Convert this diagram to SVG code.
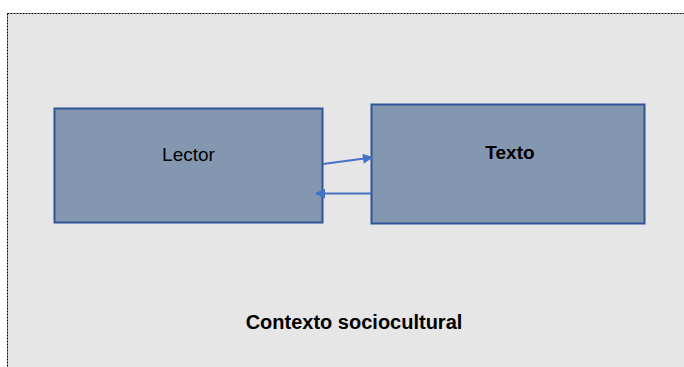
<svg xmlns="http://www.w3.org/2000/svg" width="684" height="367" viewBox="0 0 684 367">
<style>
.node{fill:#8497B0;stroke:#2F5597;stroke-width:2}
.lbl{font-family:"Liberation Sans",Arial,sans-serif;fill:#000;text-anchor:middle}
.conn{stroke:#4472C4;stroke-width:2;fill:none;marker-end:url(#ah)}
</style>
<defs>
<marker id="ah" viewBox="0 0 10 10" refX="9" refY="5" markerWidth="5.5" markerHeight="5" orient="auto" markerUnits="strokeWidth">
<path d="M0,0 L10,5 L0,10 z" fill="#4472C4"/>
</marker>
</defs>
<rect width="684" height="367" fill="#fff"/>
<g id="contexto">
<rect x="7.5" y="13.5" width="690" height="370" fill="#E6E6E6" stroke="#000" stroke-width="1" stroke-dasharray="2,1"/>
<text class="lbl" x="354" y="329" font-size="20" font-weight="bold">Contexto sociocultural</text>
</g>
<g id="lector">
<rect class="node" x="54.5" y="108.5" width="268" height="114"/>
<text class="lbl" x="188.5" y="161" font-size="19">Lector</text>
</g>
<g id="texto">
<rect class="node" x="371.5" y="104.5" width="273" height="119"/>
<text class="lbl" x="510" y="159" font-size="19" font-weight="bold">Texto</text>
</g>
<g id="connectors">
<line class="conn" x1="323" y1="164" x2="372" y2="157.5"/>
<line class="conn" x1="371" y1="193.5" x2="316" y2="193.5"/>
</g>
</svg>
